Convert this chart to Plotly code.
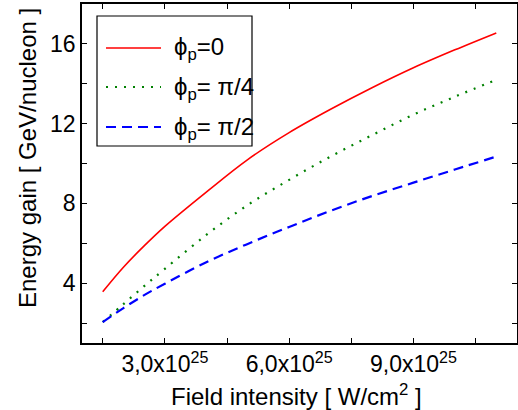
import plotly.graph_objects as go

# Data (field intensity in W/cm^2, energy gain in GeV/nucleon)
intensity = [1.5e25, 2.0e25, 2.5e25, 3.0e25, 4.0e25, 5.0e25, 6.0e25, 7.0e25, 8.0e25, 9.0e25, 10.0e25, 11.0e25]
gain_phi0 = [3.57, 4.8, 5.87, 6.85, 8.57, 10.2, 11.55, 12.72, 13.8, 14.8, 15.7, 16.55]
gain_phi_pi4 = [2.05, 2.95, 3.85, 4.72, 6.42, 7.92, 9.18, 10.35, 11.42, 12.45, 13.35, 14.2]
gain_phi_pi2 = [2.05, 2.75, 3.4, 3.97, 5.05, 5.97, 6.82, 7.63, 8.37, 9.04, 9.7, 10.35]

series_names = ["ϕ<sub>p</sub>=0", "ϕ<sub>p</sub>= π/4", "ϕ<sub>p</sub>= π/2"]
series_colors = ["#ff0000", "#008000", "#0000ff"]
series_dash = ["solid", "2px,7px", "10px,6px"]
series_width = [1.6, 2.2, 2.2]

x_tickvals = [1.5e25, 3.0e25, 4.5e25, 6.0e25, 7.5e25, 9.0e25, 10.5e25]
x_ticktext = ["", "3,0x10<sup>25</sup>", "", "6,0x10<sup>25</sup>", "", "9,0x10<sup>25</sup>", ""]
y_tickvals = [2, 4, 6, 8, 10, 12, 14, 16, 18]
y_ticktext = ["", "4", "", "8", "", "12", "", "16", ""]

FONT = "Liberation Sans, Arial, sans-serif"

W, H = 518, 410
ML, MR, MT, MB = 82, 1, 4, 67
PW = W - ML - MR
PH = H - MT - MB


def px(xp):
    return (xp - ML) / PW


def py(yp):
    return (H - MB - yp) / PH


fig = go.Figure()
for ys, name, c, d, w in zip([gain_phi0, gain_phi_pi4, gain_phi_pi2], series_names,
                             series_colors, series_dash, series_width):
    fig.add_trace(go.Scatter(x=intensity, y=ys, mode="lines", name=name,
                             line=dict(color=c, dash=d, width=w, shape="spline"),
                             showlegend=False))

# Manual legend
shapes = [dict(type="rect", xref="paper", yref="paper",
               x0=px(97), x1=px(252), y0=py(146), y1=py(16),
               line=dict(color="black", width=1.2), fillcolor="white", layer="above")]
annotations = []
rows = [48, 87, 127]
for r, name, c, d, w in zip(rows, series_names, series_colors, series_dash, series_width):
    shapes.append(dict(type="line", xref="paper", yref="paper",
                       x0=px(106), x1=px(161), y0=py(r), y1=py(r),
                       line=dict(color=c, dash=d, width=w), layer="above"))
    annotations.append(dict(x=px(172), y=py(r + 1), xref="paper", yref="paper",
                            text=name, showarrow=False, xanchor="left", yanchor="middle",
                            font=dict(size=24, color="black", family=FONT)))

# Axis titles
annotations.append(dict(x=px(27), y=py(158), xref="paper", yref="paper",
                        text="Energy gain [ GeV/nucleon ]", textangle=-90, showarrow=False,
                        xanchor="center", yanchor="middle",
                        font=dict(size=24, color="black", family=FONT)))
annotations.append(dict(x=px(296), y=py(395), xref="paper", yref="paper",
                        text="Field intensity [ W/cm<sup>2</sup> ]", showarrow=False,
                        xanchor="center", yanchor="middle",
                        font=dict(size=24, color="black", family=FONT)))

fig.update_layout(
    template="none",
    width=W, height=H,
    margin=dict(l=ML, r=MR, t=MT, b=MB, autoexpand=False),
    plot_bgcolor="white", paper_bgcolor="white",
    font=dict(family=FONT, size=23, color="black"),
    shapes=shapes, annotations=annotations,
    showlegend=False,
)
fig.update_xaxes(range=[1.0e25, 11.5e25], tickmode="array", tickvals=x_tickvals,
                 ticktext=x_ticktext, ticks="inside", ticklen=5, tickwidth=1.2,
                 tickcolor="black", showline=True, linecolor="black", linewidth=1.5,
                 mirror="ticks", showgrid=False, zeroline=False, automargin=False,
                 tickfont=dict(size=23, family=FONT))
fig.update_yaxes(range=[1, 18], tickmode="array", tickvals=y_tickvals,
                 ticktext=y_ticktext, ticks="inside", ticklen=5, tickwidth=1.2,
                 tickcolor="black", showline=True, linecolor="black", linewidth=1.5,
                 mirror="ticks", showgrid=False, zeroline=False, automargin=False,
                 tickfont=dict(size=23, family=FONT), ticklabelstandoff=0)

fig.write_html("out.html", config={"displayModeBar": False},
               post_script="document.body.style.margin='0';document.body.style.overflow='hidden';")
